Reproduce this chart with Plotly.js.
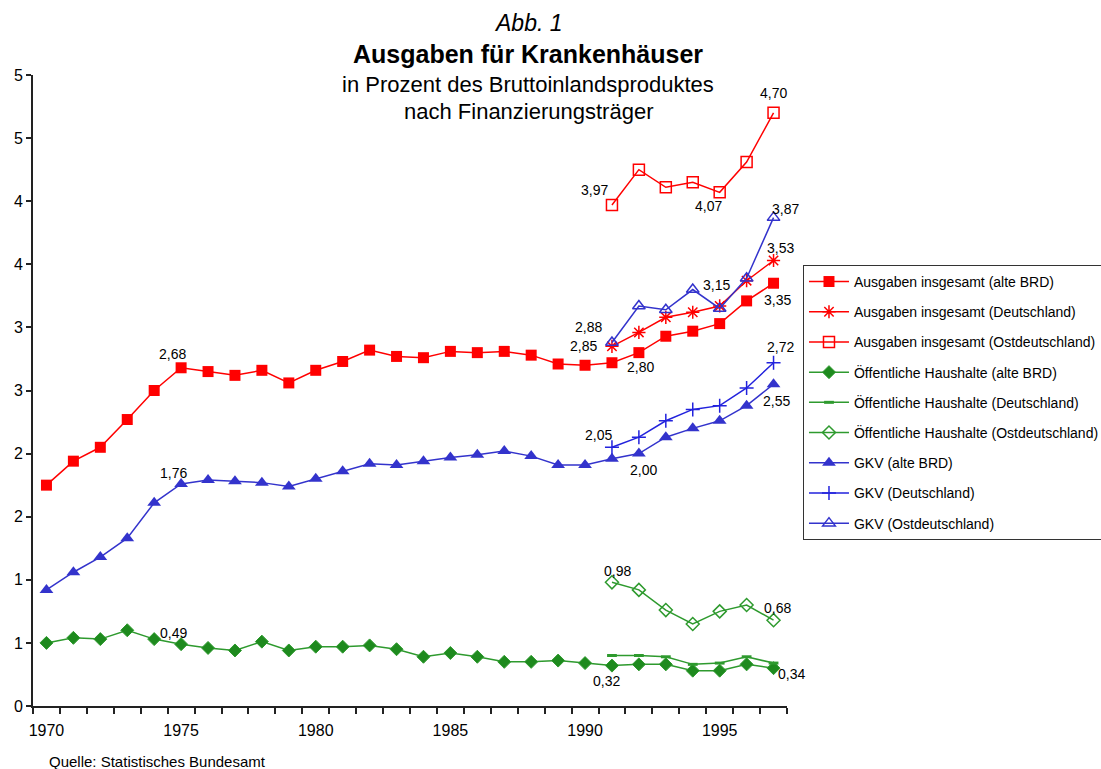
<!DOCTYPE html>
<html>
<head>
<meta charset="utf-8">
<script src="https://cdn.plot.ly/plotly-3.0.1.min.js"></script>
<style>html,body{margin:0;padding:0;background:#fff;}#chart{width:1101px;height:769px;}</style>
</head>
<body>
<div id="chart"></div>
<script>
// ---------- DATA ----------
const yearsAll = [1970,1971,1972,1973,1974,1975,1976,1977,1978,1979,1980,1981,1982,1983,1984,1985,1986,1987,1988,1989,1990,1991,1992,1993,1994,1995,1996,1997];
const yearsGes = [1991,1992,1993,1994,1995,1996,1997];

const ausgabenAlteBRD      = [1.75,1.94,2.05,2.27,2.50,2.68,2.65,2.62,2.66,2.56,2.66,2.73,2.82,2.77,2.76,2.81,2.80,2.81,2.78,2.71,2.70,2.72,2.80,2.93,2.97,3.03,3.21,3.35];
const ausgabenDeutschland  = [2.85,2.96,3.08,3.12,3.17,3.37,3.53];
const ausgabenOst          = [3.97,4.25,4.11,4.15,4.07,4.31,4.70];
const oeffAlteBRD          = [0.50,0.54,0.53,0.60,0.53,0.49,0.46,0.44,0.51,0.44,0.47,0.47,0.48,0.45,0.39,0.42,0.39,0.35,0.35,0.36,0.34,0.32,0.33,0.33,0.28,0.28,0.33,0.30];
const oeffDeutschland      = [0.40,0.40,0.39,0.33,0.34,0.39,0.34];
const oeffOst              = [0.98,0.92,0.76,0.65,0.75,0.80,0.68];
const gkvAlteBRD           = [0.92,1.06,1.18,1.33,1.61,1.76,1.79,1.78,1.77,1.74,1.80,1.86,1.92,1.91,1.94,1.97,1.99,2.02,1.98,1.91,1.91,1.96,2.00,2.13,2.20,2.26,2.38,2.55];
const gkvDeutschland       = [2.05,2.13,2.26,2.35,2.38,2.52,2.72];
const gkvOst               = [2.88,3.17,3.14,3.30,3.15,3.39,3.87];

const seriesNames = [
  "Ausgaben insgesamt (alte BRD)",
  "Ausgaben insgesamt (Deutschland)",
  "Ausgaben insgesamt (Ostdeutschland)",
  "Öffentliche Haushalte (alte BRD)",
  "Öffentliche Haushalte (Deutschland)",
  "Öffentliche Haushalte (Ostdeutschland)",
  "GKV (alte BRD)",
  "GKV (Deutschland)",
  "GKV (Ostdeutschland)"
];

const yTickVals   = [0,0.5,1,1.5,2,2.5,3,3.5,4,4.5,5];
const yTickLabels = ["0","1","1","2","2","3","3","4","4","5","5"];
const xTickVals   = [1970,1975,1980,1985,1990,1995];
const xTickLabels = ["1970","1975","1980","1985","1990","1995"];

// data labels: [series index, year]
const labelSeries = [0,6,3,1,8,0,8,0,1,8,2,2,2,7,6,7,6,5,5,3,4];
const labelYears  = [1975,1975,1975,1991,1991,1992,1995,1997,1997,1997,1997,1991,1995,1997,1997,1991,1992,1991,1997,1991,1997];

// ---------- STYLE / POSITION ----------
const labelOffsets = [ // [dx, dy] in px, dy downwards
  [-9,-14],[-8,-11],[-8,-11],[-28,0],[-23,-16],[2,14],[-3,-23],[4,17],[7,-13],[12,-9],
  [0,-20],[-17,-15],[-11,14],[7,-16],[3,17],[-13,-12],[5,16],[6,-11],[4,-12],[-5,15],[18,11]
];

const FONT = "Liberation Sans, Arial, Helvetica, sans-serif";
const RED = "#FF0000", GREEN = "#2E9A2E", GREEN_M = "#1E8A1E", BLUE = "#3333CC", BLUE2 = "#2222DD";

const seriesX = [yearsAll, yearsGes, yearsGes, yearsAll, yearsGes, yearsGes, yearsAll, yearsGes, yearsGes];
const seriesY = [ausgabenAlteBRD, ausgabenDeutschland, ausgabenOst, oeffAlteBRD, oeffDeutschland, oeffOst, gkvAlteBRD, gkvDeutschland, gkvOst];
const styles = [
  {lc: RED,   m: {symbol:"square", size:11, color:RED}},
  {lc: RED,   m: {symbol:"asterisk-open", size:11, color:RED, line:{color:RED, width:1.5}}},
  {lc: RED,   m: {symbol:"square-open", size:11, color:RED, line:{color:RED, width:1.5}}},
  {lc: GREEN, m: {symbol:"diamond", size:10, color:GREEN_M, line:{color:GREEN, width:1}}},
  {lc: GREEN, m: {symbol:"line-ew-open", size:7, color:GREEN, line:{color:GREEN, width:3}}},
  {lc: GREEN, m: {symbol:"diamond-open", size:10, color:GREEN, line:{color:GREEN, width:1.5}}},
  {lc: BLUE,  m: {symbol:"triangle-up", size:12, color:BLUE}},
  {lc: BLUE2, m: {symbol:"cross-thin-open", size:10, color:BLUE2, line:{color:BLUE2, width:1.5}}},
  {lc: BLUE,  m: {symbol:"triangle-up-open", size:11, color:BLUE, line:{color:BLUE, width:1.5}}}
];

const traces = seriesNames.map((name, i) => ({
  type: "scatter",
  mode: "lines+markers",
  name: name,
  x: seriesX[i],
  y: seriesY[i],
  line: {color: styles[i].lc, width: 1.5},
  marker: styles[i].m,
  legendgroup: "g" + i,
  hoverinfo: "x+y+name"
}));

const fmt = v => v.toFixed(2).replace(".", ",");

const annotations = labelSeries.map((s, k) => {
  const idx = seriesX[s].indexOf(labelYears[k]);
  const v = seriesY[s][idx];
  return {
    x: labelYears[k], y: v, xref: "x", yref: "y",
    text: fmt(v), showarrow: false,
    xanchor: "center", yanchor: "middle",
    xshift: labelOffsets[k][0], yshift: -labelOffsets[k][1],
    font: {family: FONT, size: 14, color: "#000"}
  };
});

// titles
annotations.push(
  {xref:"paper", yref:"paper", x:0.6565, y:1.083, text:"<i>Abb. 1</i>", showarrow:false, xanchor:"center", yanchor:"middle", font:{family:FONT, size:23, color:"#000"}},
  {xref:"paper", yref:"paper", x:0.6565, y:1.034, text:"<b>Ausgaben für Krankenhäuser</b>", showarrow:false, xanchor:"center", yanchor:"middle", font:{family:FONT, size:25, color:"#000"}},
  {xref:"paper", yref:"paper", x:0.6565, y:0.9857, text:"in Prozent des Bruttoinlandsproduktes", showarrow:false, xanchor:"center", yanchor:"middle", font:{family:FONT, size:22, color:"#000"}},
  {xref:"paper", yref:"paper", x:0.6565, y:0.9414, text:"nach Finanzierungsträger", showarrow:false, xanchor:"center", yanchor:"middle", font:{family:FONT, size:22, color:"#000"}},
  {xref:"paper", yref:"paper", x:0.019, y:-0.0872, text:"Quelle: Statistisches Bundesamt", showarrow:false, xanchor:"left", yanchor:"middle", font:{family:FONT, size:15, color:"#000"}}
);

const layout = {
  width: 1101, height: 769,
  margin: {l: 33, r: 314, t: 75, b: 63, autoexpand: false},
  paper_bgcolor: "#fff", plot_bgcolor: "#fff",
  font: {family: FONT, size: 14, color: "#000"},
  showlegend: true,
  legend: {
    x: 1.0212, y: 0.699, xanchor: "left", yanchor: "top",
    bordercolor: "#333", borderwidth: 1, bgcolor: "#fff",
    font: {family: FONT, size: 14, color: "#000"},
    tracegroupgap: 9, traceorder: "grouped", itemwidth: 40
  },
  xaxis: {
    range: [1969.5, 1997.5], tickmode: "array", tickvals: xTickVals, ticktext: xTickLabels,
    ticks: "", ticklabelstandoff: 9, showgrid: false, zeroline: false,
    showline: true, linecolor: "#222", linewidth: 2,
    tickfont: {family: FONT, size: 16, color: "#000"},
    minor: {ticks: "outside", tickmode: "linear", tick0: 1969.5, dtick: 1, ticklen: 6, tickwidth: 2, tickcolor: "#222", showgrid: false}
  },
  yaxis: {
    range: [0, 5], tickmode: "array", tickvals: yTickVals, ticktext: yTickLabels,
    ticks: "outside", ticklen: 5, tickwidth: 2, tickcolor: "#222",
    showgrid: false, zeroline: false, showline: true, linecolor: "#222", linewidth: 2,
    tickfont: {family: FONT, size: 16, color: "#000"}
  },
  annotations: annotations
};

Plotly.newPlot("chart", traces, layout, {displayModeBar: false, staticPlot: true});
</script>
</body>
</html>
